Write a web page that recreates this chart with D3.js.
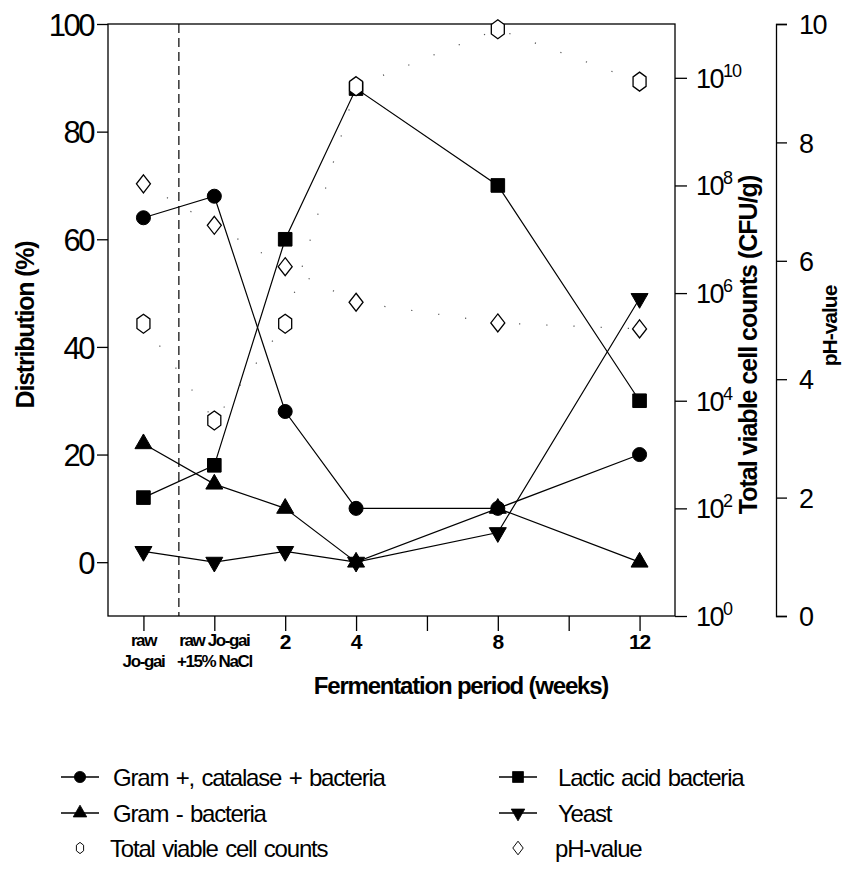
<!DOCTYPE html>
<html>
<head>
<meta charset="utf-8">
<script src="https://cdn.jsdelivr.net/npm/d3@7"></script>
<style>
  body { margin: 0; background: #fff; }
  svg text { font-family: "Liberation Sans", Arial, sans-serif; fill: #000; }
</style>
</head>
<body>
<svg id="chart" width="846" height="875"></svg>
<script>
// data
const weeks = [-2, 0, 2, 4, 8, 12];
const gramPos = [64, 68, 28, 10, 10, 20];
const lactic = [12, 18, 60, 88, 70, 30];
const gramNeg = [22, 14.5, 10, 0, 10, 0];
const yeast = [2, 0, 2, 0, 5.5, 49];
const totalCounts = [2.7e5, 4.3e3, 2.7e5, 7e9, 8e10, 8.5e9];
const phValues = [7.3, 6.6, 5.9, 5.3, 4.95, 4.85];

const xTicks = [-2, 0, 2, 4, 6, 8, 10, 12];
const xTickLabels = [["raw", "Jo-gai"], ["raw Jo-gai", "+15% NaCl"], ["2"], ["4"], [""], ["8"], [""], ["12"]];
const leftTicks = [0, 20, 40, 60, 80, 100];
const logTicks = [0, 2, 4, 6, 8, 10];   // exponents
const phTicks = [0, 2, 4, 6, 8, 10];

const svg = d3.select("#chart");

const pLeft = 108, pRight = 675, pTop = 24, pBottom = 616;
const x = d3.scaleLinear().domain([-3, 13]).range([pLeft, pRight]);
const yL = d3.scaleLinear().domain([-10, 100]).range([pBottom, pTop]);
const yLog = d3.scaleLog().domain([1, 1e11]).range([pBottom, pTop]);
const yPh = d3.scaleLinear().domain([0, 10]).range([pBottom, pTop]);

// marker shapes
function hexPath(w, h) {
  return `M0,${-h/2}L${w/2},${-h/4}L${w/2},${h/4}L0,${h/2}L${-w/2},${h/4}L${-w/2},${-h/4}Z`;
}
function diamondPath(w, h) {
  return `M0,${-h/2}L${w/2},0L0,${h/2}L${-w/2},0Z`;
}
const sym = {
  circle: d3.symbol(d3.symbolCircle, 155)(),
  square: d3.symbol(d3.symbolSquare, 185)(),
  triUp: d3.symbol(d3.symbolTriangle, 125)(),
  triDown: d3.symbol(d3.symbolTriangle, 125)(),
  hex: hexPath(13, 19),
  diamond: diamondPath(14, 18)
};

// box
svg.append("rect")
  .attr("x", pLeft).attr("y", pTop)
  .attr("width", pRight - pLeft).attr("height", pBottom - pTop)
  .attr("fill", "none").attr("stroke", "#000").attr("stroke-width", 1.3);

// dashed separator
svg.append("line")
  .attr("x1", x(-1)).attr("x2", x(-1))
  .attr("y1", pTop).attr("y2", pBottom)
  .attr("stroke", "#000").attr("stroke-width", 1.2)
  .attr("stroke-dasharray", "9,5");

// left axis
const gl = svg.append("g")
  .attr("transform", `translate(${pLeft},0)`)
  .call(d3.axisLeft(yL).tickValues(leftTicks).tickSize(11).tickSizeOuter(0).tickPadding(4));
gl.select(".domain").remove();
gl.selectAll("line").attr("stroke-width", 1.3);
gl.selectAll("text").attr("font-size", 31).attr("letter-spacing", -2.5).attr("dy", "0.36em")
  .style("font-family", "Liberation Sans, Arial, sans-serif");

// x axis ticks
const gx = svg.append("g")
  .attr("transform", `translate(0,${pBottom})`)
  .call(d3.axisBottom(x).tickValues(xTicks).tickSize(15).tickSizeOuter(0).tickFormat(""));
gx.select(".domain").remove();
gx.selectAll("line").attr("stroke-width", 1.3);

xTicks.forEach((t, i) => {
  const lines = xTickLabels[i];
  const small = lines.length > 1;
  lines.forEach((s, j) => {
    svg.append("text")
      .attr("x", x(t))
      .attr("y", (small ? 646 : 649) + j * 21)
      .attr("text-anchor", "middle")
      .attr("font-size", small ? 17 : 21)
      .attr("font-weight", "bold")
      .attr("letter-spacing", small ? -1.4 : -1)
      .text(s);
  });
});

svg.append("text")
  .attr("x", 461).attr("y", 694)
  .attr("text-anchor", "middle")
  .attr("font-size", 24).attr("font-weight", "bold")
  .attr("letter-spacing", -1.2)
  .text("Fermentation period (weeks)");

// left axis title
svg.append("text")
  .attr("transform", "translate(34,325) rotate(-90)")
  .attr("text-anchor", "middle")
  .attr("font-size", 25).attr("font-weight", "bold")
  .attr("letter-spacing", -1.2)
  .text("Distribution (%)");

// log axis on the right of the box
const gr = svg.append("g")
  .attr("transform", `translate(${pRight},0)`)
  .call(d3.axisRight(yLog).tickValues(logTicks.map(e => Math.pow(10, e))).tickSize(12).tickSizeOuter(0).tickFormat(""));
gr.select(".domain").remove();
gr.selectAll("line").attr("stroke-width", 1.3);
logTicks.forEach(e => {
  const t = svg.append("text")
    .attr("x", pRight + 21).attr("y", yLog(Math.pow(10, e)) + 10)
    .attr("font-size", 27).attr("letter-spacing", -1.5);
  t.append("tspan").text("10");
  t.append("tspan").attr("dy", -11).attr("font-size", 18).attr("letter-spacing", -1).text(e);
});

svg.append("text")
  .attr("transform", "translate(757,345) rotate(-90)")
  .attr("text-anchor", "middle")
  .attr("font-size", 25).attr("font-weight", "bold")
  .attr("letter-spacing", -1)
  .text("Total viable cell counts (CFU/g)");

// pH axis
const gp = svg.append("g")
  .attr("transform", "translate(776,0)")
  .call(d3.axisRight(yPh).tickValues(phTicks).tickSize(11).tickSizeOuter(11).tickPadding(12));
gp.selectAll("path, line").attr("stroke-width", 1.3);
gp.selectAll("text").attr("font-size", 27).attr("letter-spacing", -1.5).attr("dy", "0.36em")
  .style("font-family", "Liberation Sans, Arial, sans-serif");

svg.append("text")
  .attr("transform", "translate(837,326) rotate(-90)")
  .attr("text-anchor", "middle")
  .attr("font-size", 21).attr("font-weight", "bold")
  .attr("letter-spacing", -1)
  .text("pH-value");

// series
const plot = svg.append("g");

function drawSeries(vals, yScale, shape, filled, dotted, flip) {
  const pts = weeks.map((w, i) => [x(w), yScale(vals[i])]);
  plot.append("path")
    .attr("d", d3.line()(pts))
    .attr("fill", "none")
    .attr("stroke", dotted ? "#555" : "#000")
    .attr("stroke-width", dotted ? 1.2 : 1.2)
    .attr("stroke-dasharray", dotted ? "1.2,26" : null);
  plot.selectAll(null).data(pts).enter().append("path")
    .attr("d", shape)
    .attr("transform", d => `translate(${d[0]},${d[1]})${flip ? " rotate(180)" : ""}`)
    .attr("fill", filled ? "#000" : "#fff")
    .attr("stroke", "#000")
    .attr("stroke-width", filled ? 1 : 1.3);
}

drawSeries(gramNeg, yL, sym.triUp, true, false);
drawSeries(lactic, yL, sym.square, true, false);
drawSeries(gramPos, yL, sym.circle, true, false);
drawSeries(yeast, yL, sym.triDown, true, false, true);
drawSeries(phValues, yPh, sym.diamond, false, true);
drawSeries(totalCounts, yLog, sym.hex, false, true);

// legend
const legendItems = [
  { label: "Gram +, catalase + bacteria", shape: sym.circle, filled: true, line: true, col: 0, row: 0 },
  { label: "Lactic acid bacteria", shape: sym.square, filled: true, line: true, col: 1, row: 0 },
  { label: "Gram - bacteria", shape: sym.triUp, filled: true, line: true, col: 0, row: 1 },
  { label: "Yeast", shape: sym.triDown, filled: true, line: true, col: 1, row: 1, flip: true },
  { label: "Total viable cell counts", shape: hexPath(9, 14), filled: false, line: false, col: 0, row: 2 },
  { label: "pH-value", shape: diamondPath(13, 17), filled: false, line: false, col: 1, row: 2 }
];
const colX = [80, 518];
const textX = [113, 558];
const rowY = [777, 813, 848];

legendItems.forEach(d => {
  const cx = colX[d.col], cy = rowY[d.row];
  const g = svg.append("g");
  if (d.line) {
    g.append("line").attr("x1", cx - 19).attr("x2", cx + 19)
      .attr("y1", cy).attr("y2", cy).attr("stroke", "#000").attr("stroke-width", 1.4);
  }
  g.append("path").attr("d", d.shape)
    .attr("transform", `translate(${cx},${cy})scale(0.8)${d.flip ? " rotate(180)" : ""}`)
    .attr("fill", d.filled ? "#000" : "#fff")
    .attr("stroke", "#000").attr("stroke-width", d.filled ? 1 : 1.2);
  g.append("text")
    .attr("x", textX[d.col] - (d.line ? 0 : 3)).attr("y", cy + 9)
    .attr("font-size", 24).attr("letter-spacing", -1.2).attr("word-spacing", 2)
    .text(d.label);
});
</script>
</body>
</html>
